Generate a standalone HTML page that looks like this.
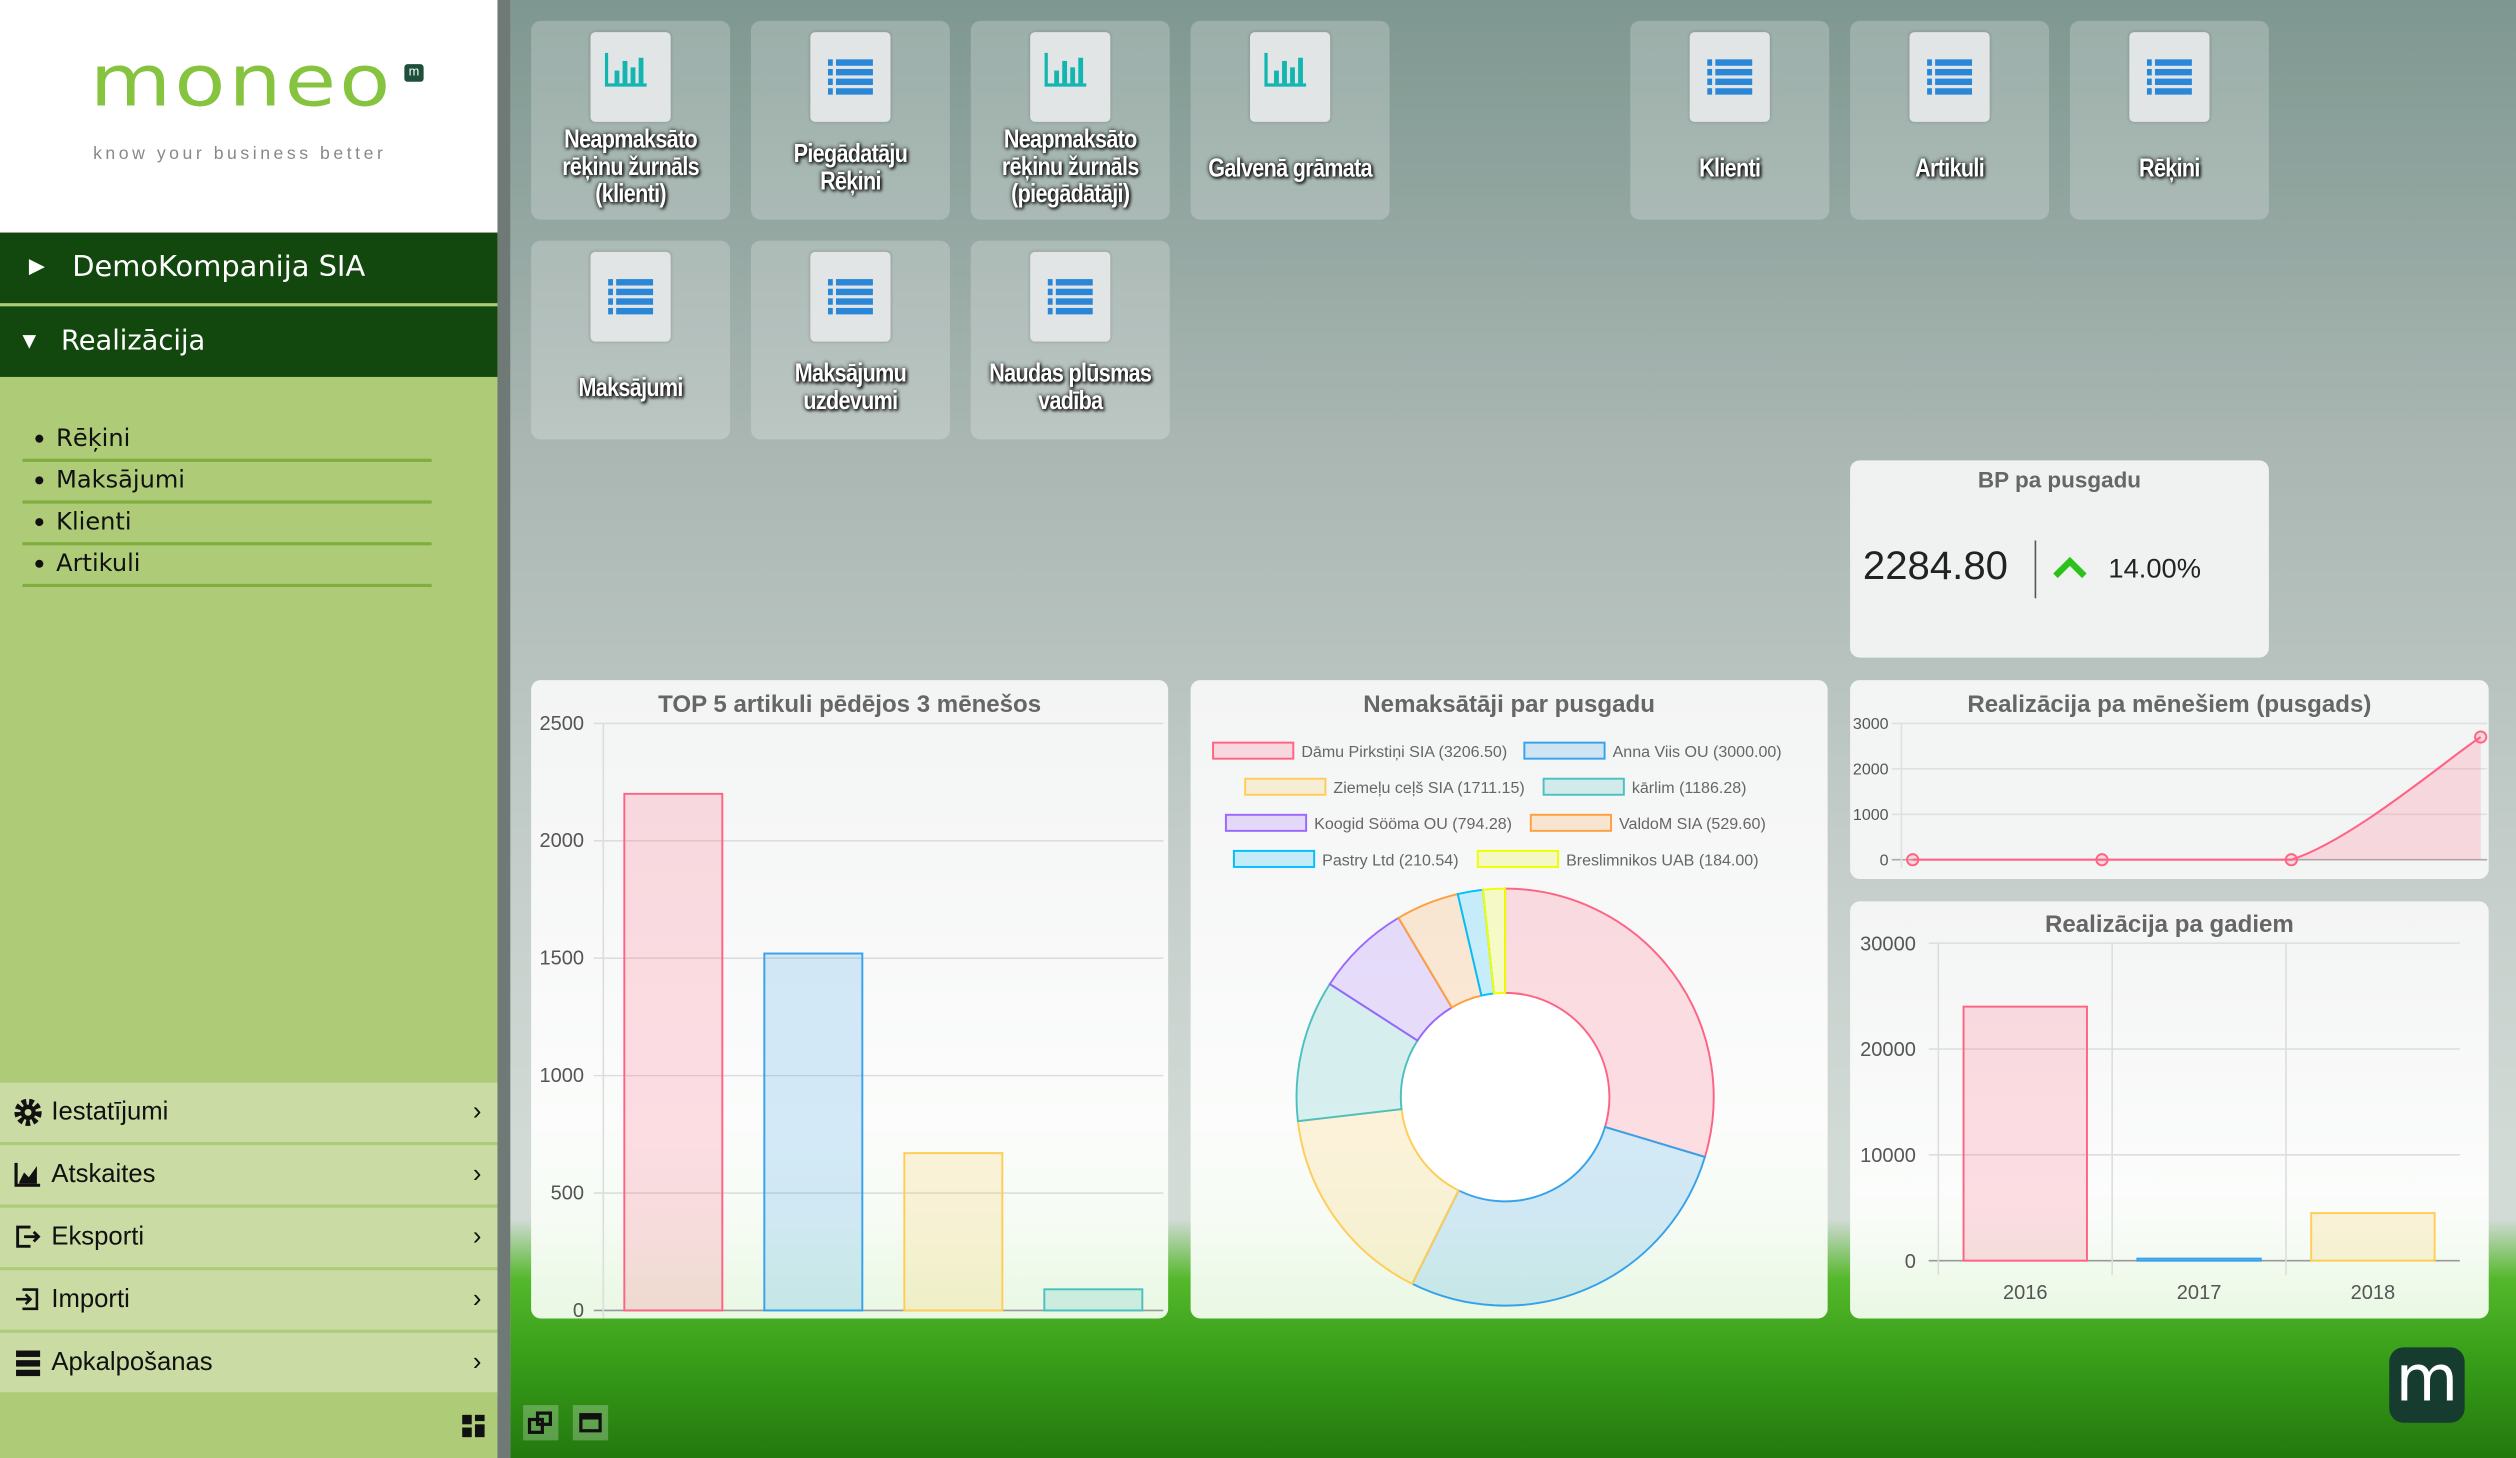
<!DOCTYPE html>
<html><head><meta charset="utf-8"><style>
html,body{margin:0;padding:0;width:2516px;height:1458px;overflow:hidden;background:#8fa49d}
#wrap{position:absolute;left:0;top:0;width:1568px;height:909px;transform:scale(1.60459,1.60396);transform-origin:0 0;font-family:"Liberation Sans",sans-serif}
#side{position:absolute;left:0;top:0;width:310px;height:909px;background:#aecb78}
#logo{position:absolute;left:0;top:0;width:310px;height:145px;background:#fff}
.dk{position:absolute;left:0;width:310px;height:44px;background:#12470e;color:#fff;font-size:18px;line-height:44px;font-family:"DejaVu Sans","Liberation Sans",sans-serif}
.sub{position:absolute;left:14px;width:255px;height:25px;border-bottom:2px solid #7fae3f;font-size:15px;font-family:"DejaVu Sans",sans-serif;color:#111;line-height:24px}
.sub:before{content:"";position:absolute;left:8px;top:10px;width:5px;height:5px;border-radius:50%;background:#111}
.sub span{position:absolute;left:21px}
.bm{position:absolute;left:0;width:310px;height:37px;background:#cadca4;border-bottom:2px solid #aecb78;font-size:16px;line-height:37px;color:#111;font-family:"Liberation Sans Narrow","Liberation Sans",sans-serif}
.bm span.t{position:absolute;left:32px}
.bm span.c{position:absolute;right:10px;font-size:16px}
.bm svg{position:absolute;left:9px;top:10px}
#main{position:absolute;left:318px;top:0;width:1250px;height:909px;background:linear-gradient(180deg,#7e9790 0%,#a9b6b2 30%,#c5ceca 60%,#d3dbd7 80%,#d3dbd7 100%)}
#strip{position:absolute;left:310px;top:0;width:8px;height:909px;background:#6f7a76}
#grass{position:absolute;left:318px;top:760px;width:1250px;height:149px;background:linear-gradient(180deg,rgba(80,180,40,0) 0%,#55b82c 25%,#3aa11a 55%,#23780e 100%)}
.tile{position:absolute;width:124px;height:124px;border-radius:6px;background:rgba(255,255,255,0.22)}
.tile .ib{position:absolute;left:37px;top:7px;width:50px;height:56px;border-radius:3px;background:#e2e5e5;box-shadow:0 0 2px rgba(0,0,0,.2)}
.tile .tx{position:absolute;left:-10px;width:144px;text-align:center;color:#fff;font-family:"Liberation Sans",sans-serif;font-weight:bold;font-size:16px;line-height:17px;text-shadow:0 0 3px #000,1px 1px 2px #000;letter-spacing:-0.5px;transform:scaleX(0.84)}
.card{position:absolute;border-radius:6px;background:linear-gradient(180deg,#f3f4f4 0%,#fbfcfb 70%,rgba(242,252,238,.95) 100%)}
.ttl{position:absolute;left:0;width:100%;text-align:center;font-weight:bold;color:#666;font-size:15px}
</style></head><body>
<div id="wrap">
<div id="main"></div>
<div id="grass"></div>
<div id="strip"></div>
<div id="side">
 <div id="logo">
  <div style="position:absolute;left:56px;top:30px;font-size:52px;color:#86c440;font-family:'DejaVu Sans',sans-serif;letter-spacing:2px;line-height:50px;transform:scaleY(0.85);transform-origin:0 0">moneo</div>
  <div style="position:absolute;left:252px;top:40px;width:12px;height:11px;background:#1d4f3b;border-radius:2px;color:#fff;font-size:8px;line-height:10px;text-align:center">m</div>
  <div style="position:absolute;left:58px;top:90px;font-size:11px;color:#888;letter-spacing:2.2px">know your business better</div>
 </div>
 <div class="dk" style="top:145px"><span style="position:absolute;left:18px;font-size:13px">&#9654;</span><span style="position:absolute;left:45px">DemoKompanija SIA</span></div>
 <div class="dk" style="top:191px;height:44px"><span style="position:absolute;left:14px;font-size:11px">&#9660;</span><span style="position:absolute;left:38px;font-size:17px">Realizācija</span></div>
 <div class="sub" style="top:261px"><span>Rēķini</span></div>
 <div class="sub" style="top:287px"><span>Maksājumi</span></div>
 <div class="sub" style="top:313px"><span>Klienti</span></div>
 <div class="sub" style="top:339px"><span>Artikuli</span></div>
 <div class="bm" style="top:675px"><svg width="17" height="17" viewBox="0 0 16 16"><circle cx="8" cy="8" r="6" fill="none" stroke="#111" stroke-width="4" stroke-dasharray="2.5 1.6"/><circle cx="8" cy="8" r="4.5" fill="#111"/><circle cx="8" cy="8" r="2" fill="#cadca4"/></svg><span class="t">Iestatījumi</span><span class="c">&#x203A;</span></div>
 <div class="bm" style="top:714px"><svg width="17" height="16"><path d="M1 1V15H16" stroke="#111" fill="none" stroke-width="2"/><path d="M3 13L6 7L9 10L14 3V14H3Z" fill="#111"/></svg><span class="t">Atskaites</span><span class="c">&#x203A;</span></div>
 <div class="bm" style="top:753px"><svg width="17" height="16"><path d="M10 2H2V14H10" stroke="#111" fill="none" stroke-width="1.8"/><path d="M6 8H15M12 5L15 8L12 11" stroke="#111" fill="none" stroke-width="1.8"/></svg><span class="t">Eksporti</span><span class="c">&#x203A;</span></div>
 <div class="bm" style="top:792px"><svg width="17" height="16"><path d="M5 2H14V14H5" stroke="#111" fill="none" stroke-width="1.6"/><path d="M1 8H10M7 5L10 8L7 11" stroke="#111" fill="none" stroke-width="1.6"/></svg><span class="t">Importi</span><span class="c">&#x203A;</span></div>
 <div class="bm" style="top:831px"><svg width="17" height="17"><rect x="1" y="1" width="15" height="4" fill="#111"/><rect x="1" y="7" width="15" height="4" fill="#111"/><rect x="1" y="13" width="15" height="4" fill="#111"/></svg><span class="t">Apkalpošanas</span><span class="c">&#x203A;</span></div>
 <svg style="position:absolute;left:288px;top:882px" width="15" height="15"><rect x="0" y="0" width="6" height="6" fill="#111"/><rect x="8" y="0" width="6" height="4" fill="#111"/><rect x="0" y="8" width="6" height="6" fill="#111"/><rect x="8" y="6" width="6" height="8" fill="#111"/></svg>
</div>

<div id="tiles"></div>

<div class="card" style="left:1153px;top:287px;width:261px;height:123px;background:#f0f2f2">
 <div class="ttl" style="top:4px;font-size:14px">BP pa pusgadu</div>
 <div style="position:absolute;left:8px;top:52px;font-size:25px;color:#222">2284.80</div>
 <div style="position:absolute;left:115px;top:50px;width:1px;height:36px;background:#555"></div>
 <svg style="position:absolute;left:126px;top:60px" width="22" height="14"><path d="M2 12L11 3L20 12" stroke="#2bc21b" stroke-width="4" fill="none"/></svg>
 <div style="position:absolute;left:161px;top:58px;font-size:17px;color:#222">14.00%</div>
</div>

<div class="card" style="left:331px;top:424px;width:397px;height:398px"><div class="ttl" style="top:7px">TOP 5 artikuli pēdējos 3 mēnešos</div></div>
<div class="card" style="left:742px;top:424px;width:397px;height:398px"><div class="ttl" style="top:7px">Nemaksātāji par pusgadu</div></div>
<div class="card" style="left:1153px;top:424px;width:398px;height:124px;background:#f3f4f4"><div class="ttl" style="top:7px">Realizācija pa mēnešiem (pusgads)</div></div>
<div class="card" style="left:1153px;top:562px;width:398px;height:260px"><div class="ttl" style="top:6px">Realizācija pa gadiem</div></div>

<svg id="charts" style="position:absolute;left:0;top:0" width="1568" height="909" font-family="Liberation Sans, sans-serif"></svg>

<div style="position:absolute;left:326px;top:876px;width:22px;height:22px;background:rgba(255,255,255,.25)"><svg width="22" height="22"><rect x="4" y="9" width="8" height="8" fill="none" stroke="#111" stroke-width="2"/><rect x="9" y="5" width="8" height="7" fill="none" stroke="#111" stroke-width="2"/></svg></div>
<div style="position:absolute;left:357px;top:876px;width:22px;height:22px;background:rgba(255,255,255,.25)"><svg width="22" height="22"><rect x="5" y="6" width="12" height="10" fill="none" stroke="#111" stroke-width="2"/><rect x="5" y="6" width="12" height="3" fill="#111"/></svg></div>
<div style="position:absolute;left:1489px;top:840px;width:47px;height:47px;border-radius:9px;background:#153c2e;color:#fff;font-size:40px;line-height:40px;text-align:center;font-family:'DejaVu Sans',sans-serif">m</div>
</div>

<script>
// ===== Data =====
const top5Values = [2200, 1520, 670, 90];
const top5Ticks = [0, 500, 1000, 1500, 2000, 2500];
const debtorNames = ["Dāmu Pirkstiņi SIA","Anna Viis OU","Ziemeļu ceļš SIA","kārlim","Koogid Sööma OU","ValdoM SIA","Pastry Ltd","Breslimnikos UAB"];
const debtorValues = [3206.50, 3000.00, 1711.15, 1186.28, 794.28, 529.60, 210.54, 184.00];
const monthlyValues = [0, 0, 0, 2700];
const monthlyTicks = [0, 1000, 2000, 3000];
const yearCategories = ["2016", "2017", "2018"];
const yearValues = [24000, 200, 4500];
const yearTicks = [0, 10000, 20000, 30000];
const tileLabels = [["Neapmaksāto","rēķinu žurnāls","(klienti)"],["Piegādatāju","Rēķini"],["Neapmaksāto","rēķinu žurnāls","(piegādātāji)"],["Galvenā grāmata"],["Klienti"],["Artikuli"],["Rēķini"],["Maksājumi"],["Maksājumu","uzdevumi"],["Naudas plūsmas","vadība"]];
const tileIcons = ["chart","list","chart","chart","list","list","list","list","list","list"];

const strokes = ["#ff6384","#36a2eb","#ffcd56","#4bc0c0","#9966ff","#ff9f40","#00bfff","#f0ff00"];
const fills = ["rgba(255,99,132,.2)","rgba(54,162,235,.2)","rgba(255,205,86,.2)","rgba(75,192,192,.2)","rgba(153,102,255,.2)","rgba(255,159,64,.2)","rgba(0,191,255,.2)","rgba(240,255,0,.2)"];

// ===== Tiles =====
const tilesEl = document.getElementById('tiles');
const tilePos = [[331,13],[468,13],[605,13],[742,13],[1016,13],[1153,13],[1290,13],[331,150],[468,150],[605,150]];
tileLabels.forEach((lines,i)=>{
  const t = document.createElement('div');
  t.className='tile';
  t.style.left=tilePos[i][0]+'px'; t.style.top=tilePos[i][1]+'px';
  
  
  let icon = tileIcons[i]==='chart'
    ? '<svg width="50" height="56"><path d="M10 13V33H35" stroke="#12b5b0" stroke-width="2" fill="none"/><rect x="15" y="24" width="3" height="8" fill="#12b5b0"/><rect x="20" y="18" width="3" height="14" fill="#12b5b0"/><rect x="25" y="22" width="3" height="10" fill="#12b5b0"/><rect x="30" y="16" width="3" height="16" fill="#12b5b0"/></svg>'
    : '<svg width="50" height="56"><g fill="#2a86d6"><rect x="11" y="17" width="3" height="4"/><rect x="16" y="17" width="23" height="4"/><rect x="11" y="23" width="3" height="4"/><rect x="16" y="23" width="23" height="4"/><rect x="11" y="29" width="3" height="4"/><rect x="16" y="29" width="23" height="4"/><rect x="11" y="35" width="3" height="4"/><rect x="16" y="35" width="23" height="4"/></g></svg>';
  const txtTop = lines.length===3?66:(lines.length===2?75:84);
  t.innerHTML = '<div class="ib">'+icon+'</div><div class="tx" style="top:'+txtTop+'px">'+lines.join('<br>')+'</div>';
  tilesEl.appendChild(t);
});

// ===== Charts =====
const svg = document.getElementById('charts');
const NS='http://www.w3.org/2000/svg';
function el(tag, attrs, parent){const e=document.createElementNS(NS,tag);for(const k in attrs)e.setAttribute(k,attrs[k]);(parent||svg).appendChild(e);return e;}
function txt(x,y,s,attrs){const e=el('text',Object.assign({x:x,y:y,'font-size':12,fill:'#666'},attrs||{}));e.textContent=s;return e;}

// --- TOP5 bar chart ---
(function(){
  const x0=376,x1=725,yTop=451,yBot=817,max=2500;
  const y=v=>yBot-(v/max)*(yBot-yTop);
  const slot=(x1-x0)/top5Values.length;
  const g=el('g',{});
   
  top5Ticks.forEach(t=>{
    el('line',{x1:x0-6,x2:x1,y1:y(t),y2:y(t),stroke:t===0?'#999':'#ddd','stroke-width':1},g);
    const lb=txt(x0-12,y(t)+4,String(t),{'text-anchor':'end','font-size':12.5,fill:'#555'});
     
  });
  el('line',{x1:x0,x2:x0,y1:yTop,y2:yBot+5,stroke:'#ddd'},g);
  top5Values.forEach((v,i)=>{
    const bw=slot*0.7, cx=x0+slot*(i+0.5);
    const r=el('rect',{x:cx-bw/2,y:y(v),width:bw,height:yBot-y(v),fill:fills[i],stroke:strokes[i],'stroke-width':1.2},g);
     
  });
})();

// --- Donut ---
(function(){
  const legX=[[756,950],[776,962],[764,954],[769,921]];
  for(let i=0;i<debtorNames.length;i++){
    const row=Math.floor(i/2), col=i%2;
    const lx = legX[row][col], ly = 463+row*22.5;
    const b=el('rect',{x:lx,y:ly,width:50,height:10,fill:fills[i],stroke:strokes[i],'stroke-width':1.2});
     
    const t=txt(lx+55,ly+9,debtorNames[i]+' ('+debtorValues[i].toFixed(2)+')',{'font-size':10,fill:'#666'});
     
  }
  const cx=938,cy=684,R=130,r=65;
  const total=debtorValues.reduce((a,b)=>a+b,0);
  let a=-Math.PI/2;
  debtorValues.forEach((v,i)=>{
    const a2=a+v/total*2*Math.PI, large=(a2-a)>Math.PI?1:0;
    const p=(rad,ang)=>[cx+rad*Math.cos(ang),cy+rad*Math.sin(ang)];
    const [x1,y1]=p(R,a),[x2,y2]=p(R,a2),[x3,y3]=p(r,a2),[x4,y4]=p(r,a);
    const d=`M${x1},${y1}A${R},${R} 0 ${large} 1 ${x2},${y2}L${x3},${y3}A${r},${r} 0 ${large} 0 ${x4},${y4}Z`;
    const s=el('path',{d:d,fill:fills[i],stroke:strokes[i],'stroke-width':1.2});
     
    a=a2;
  });
  el('circle',{cx:cx,cy:cy,r:r-0.8,fill:'#fff'});
})();

// --- Monthly line ---
(function(){
  const x0=1192,x1=1546,yTop=451,yBot=536,max=3000,axisX=1185;
  const y=v=>yBot-(v/max)*(yBot-yTop);
  const x=i=>x0+(x1-x0)*i/(monthlyValues.length-1);
  monthlyTicks.forEach(t=>{
    el('line',{x1:axisX-6,x2:1550,y1:y(t),y2:y(t),stroke:t===0?'#aaa':'#e0e0e0'});
    const lb=txt(axisX-8,y(t)+3.5,String(t),{'text-anchor':'end','font-size':10,fill:'#555'});
     
  });
  el('line',{x1:axisX,x2:axisX,y1:yTop,y2:yBot+5,stroke:'#e0e0e0'});
  const pts=monthlyValues.map((v,i)=>[x(i),y(v)]);
  let d=`M${pts[0][0]},${pts[0][1]}`;
  for(let i=0;i<pts.length-1;i++){
    const p0=pts[Math.max(0,i-1)],p1=pts[i],p2=pts[i+1],p3=pts[Math.min(pts.length-1,i+2)];
    let c1y=p1[1]+(p2[1]-p0[1])/6, c2y=p2[1]-(p3[1]-p1[1])/6;
    c1y=Math.min(c1y,yBot); c2y=Math.min(c2y,yBot);
    d+=`C${p1[0]+(p2[0]-p0[0])/6},${c1y} ${p2[0]-(p3[0]-p1[0])/6},${c2y} ${p2[0]},${p2[1]}`;
  }
  el('path',{d:d+`L${pts[pts.length-1][0]},${yBot}L${pts[0][0]},${yBot}Z`,fill:'rgba(255,99,132,.2)'});
  const ln=el('path',{d:d,fill:'none',stroke:'#ff6384','stroke-width':1.3});
   
  pts.forEach(p=>{const c=el('circle',{cx:p[0],cy:p[1],r:3.5,fill:'rgba(255,99,132,.2)',stroke:'#ff6384','stroke-width':1.2});
     });
})();

// --- Yearly bars ---
(function(){
  const x0=1208,x1=1533,yTop=588,yBot=786,max=30000;
  const y=v=>yBot-(v/max)*(yBot-yTop);
  const slot=(x1-x0)/yearCategories.length;
  yearTicks.forEach(t=>{
    el('line',{x1:x0-6,x2:x1,y1:y(t),y2:y(t),stroke:t===0?'#999':'#ddd'});
    const lb=txt(x0-14,y(t)+4.5,String(t),{'text-anchor':'end','font-size':12.5,fill:'#555'});
     
  });
  for(let i=0;i<yearCategories.length;i++){
    el('line',{x1:x0+slot*i,x2:x0+slot*i,y1:yTop,y2:yBot+9,stroke:'#ddd'});
    const lb=txt(x0+slot*(i+0.5),yBot+24,yearCategories[i],{'text-anchor':'middle','font-size':12.5,fill:'#555'});
     
  }
  const cols=[0,1,2];
  yearValues.forEach((v,i)=>{
    const bw=slot*0.71,cx=x0+slot*(i+0.5);
    const r=el('rect',{x:cx-bw/2,y:y(v),width:bw,height:Math.max(yBot-y(v),0.5),fill:fills[cols[i]],stroke:strokes[cols[i]],'stroke-width':1.2});
     
  });
})();
</script>
</body></html>
